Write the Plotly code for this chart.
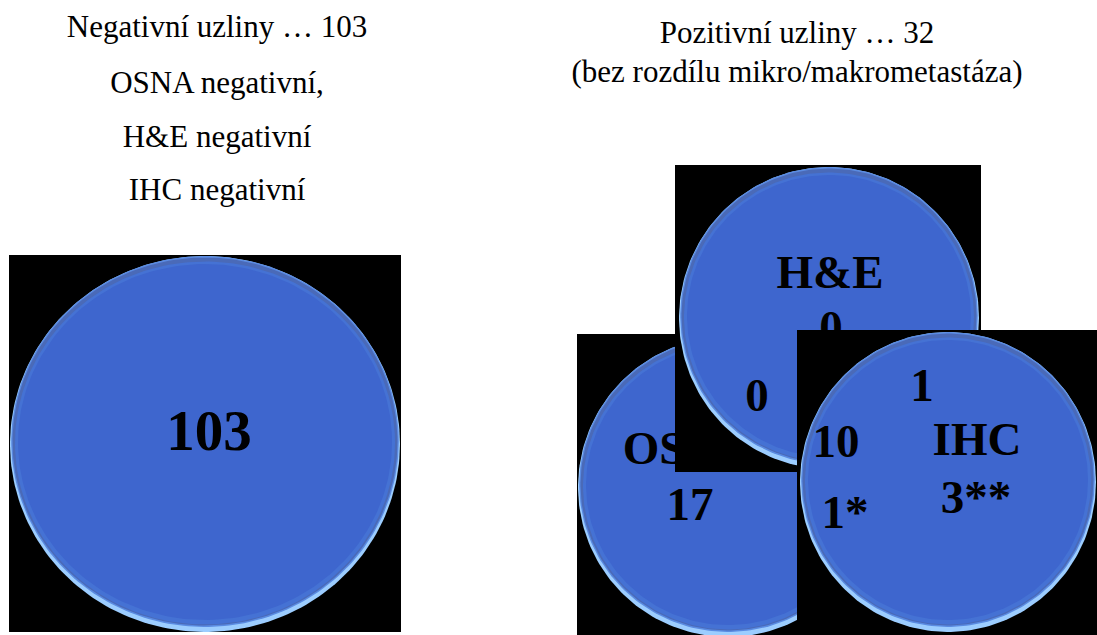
import numpy as np
import plotly.graph_objects as go

# ---------------- data ----------------
negative_title = ["Negativní uzliny … 103", "OSNA negativní,", "H&E negativní", "IHC negativní"]
positive_title = ["Pozitivní uzliny … 32", "(bez rozdílu mikro/makrometastáza)"]
negative_count = ["103"]
set_labels = ["OSNA", "H&E", "IHC"]
# Venn regions: OSNA only, H&E only, IHC only, OSNA∩H&E, H&E∩IHC, OSNA∩H&E∩IHC, OSNA∩IHC
region_values = ["17", "0", "3**", "0", "1", "10", "1*"]

# ---------------- layout geometry (pixels) ----------------
W, H = 1097, 635
FONT = "Liberation Serif, Times New Roman, serif"
FILL = "#3e66ce"

# card: square box + circle (cx, cy, rx, ry)
cards = {
    "neg":  dict(box=(9, 255, 401, 632), circ=(205, 444, 195, 188)),
    "OSNA": dict(box=(577, 334, 880, 640), circ=(728, 487, 150, 150)),
    "H&E":  dict(box=(675, 165, 981, 472), circ=(829, 318, 150, 151)),
    "IHC":  dict(box=(797, 330, 1100, 640), circ=(948, 482, 148, 150)),
}
set_label_pos = {"OSNA": (688, 452, 47), "H&E": (830, 276, 47), "IHC": (977, 443, 47)}
# region label positions (x, y, card it is printed on)
region_pos = [(690, 508, "OSNA"), (831, 331, "H&E"), (976, 501, "IHC"),
              (757, 399, "H&E"), (922, 389, "IHC"), (836, 445, "IHC"), (845, 516, "IHC")]

fig = go.Figure()


def ellipse(cx, cy, rx, ry, n=240):
    t = np.linspace(0, 2 * np.pi, n)
    return cx + rx * np.cos(t), cy + ry * np.sin(t)


def poly(x, y, color):
    fig.add_trace(go.Scatter(x=list(x), y=list(y), mode="lines", fill="toself",
                             fillcolor=color, line=dict(width=0, color=color),
                             hoverinfo="skip"))


def text(x, y, s, size, bold=True):
    fig.add_trace(go.Scatter(x=[x], y=[y], mode="text", text=[s],
                             textposition="middle center",
                             textfont=dict(family=FONT, size=size, color="black",
                                           weight="bold" if bold else "normal"),
                             hoverinfo="skip"))


def card(name):
    x0, y0, x1, y1 = cards[name]["box"]
    poly([x0, x1, x1, x0, x0], [y0, y0, y1, y1, y0], "black")
    cx, cy, rx, ry = cards[name]["circ"]
    poly(*ellipse(cx, cy, rx, ry), "#9ccdff")             # bottom highlight
    poly(*ellipse(cx, cy - 2.5, rx - 1.2, ry - 2.5), "#5a8be2")
    poly(*ellipse(cx, cy - 2.5, rx - 2.5, ry - 4), "#4a6ab8")
    poly(*ellipse(cx, cy - 1, rx - 5, ry - 6.5), "#4572d4")
    poly(*ellipse(cx, cy - 2, rx - 8, ry - 10), FILL)


# titles
for i, s in enumerate(negative_title):
    text(217, [29, 85, 139, 192][i], s, 31, bold=False)
for i, s in enumerate(positive_title):
    text(797, [35, 74][i], s, 31, bold=False)

# negative card
card("neg")
text(209, 436, negative_count[0], 57)

# positive Venn cards, drawn in stacking order
for name in set_labels:
    card(name)
    x, y, sz = set_label_pos[name]
    text(x, y, name, sz)
    for (rx_, ry_, on), val in zip(region_pos, region_values):
        if on == name:
            text(rx_, ry_, val, 47)

fig.update_layout(
    width=W, height=H, margin=dict(l=0, r=0, t=0, b=0),
    paper_bgcolor="white", plot_bgcolor="white", showlegend=False,
    hovermode=False,
    xaxis=dict(range=[0, W], visible=False, fixedrange=True),
    yaxis=dict(range=[H, 0], visible=False, fixedrange=True),
)
fig.write_html("out.html")
